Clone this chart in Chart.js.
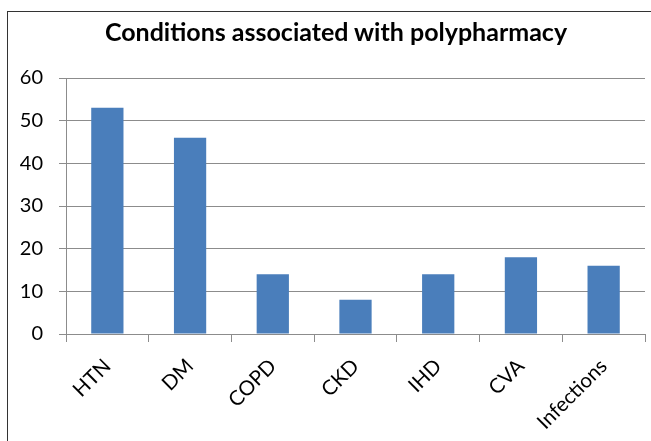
<!DOCTYPE html>
<html>
<head>
<meta charset="utf-8">
<script src="https://cdn.jsdelivr.net/npm/chart.js@4/dist/chart.umd.min.js"></script>
<style>
  html, body { margin: 0; padding: 0; background: #fff; overflow: hidden; }
  #wrap { position: relative; width: 651px; height: 441px; overflow: hidden; }
  #frame { position: absolute; left: 7px; top: 11px; width: 700px; height: 500px; border: 1px solid #333; box-sizing: border-box; }
  #title { position: absolute; left: 0; top: 16px; width: 672px; text-align: center; white-space: nowrap;
           font-family: Lato, 'Open Sans', sans-serif; font-weight: bold; font-size: 25px; line-height: 30px; color: #000; }
  canvas { position: absolute; left: 0; top: 0; }
</style>
</head>
<body>
<div id="wrap">
  <div id="frame"></div>
  <canvas id="c" width="651" height="441"></canvas>
  <div id="title"></div>
</div>
<script>
const categories = ["HTN", "DM", "COPD", "CKD", "IHD", "CVA", "Infections"];
const counts = [53, 46, 14, 8, 14, 18, 16];
const yTicks = [0, 10, 20, 30, 40, 50, 60];
const chartTitle = "Conditions associated with polypharmacy";

document.getElementById('title').textContent = chartTitle;

const FONT = "Lato, 'Open Sans', sans-serif";
const GRID = '#8c8c8c';

new Chart(document.getElementById('c'), {
  type: 'bar',
  data: {
    labels: categories,
    datasets: [{
      data: counts,
      backgroundColor: '#4a7ebb',
      borderWidth: 0,
      categoryPercentage: 0.39,
      barPercentage: 1.0
    }]
  },
  options: {
    responsive: false,
    animation: false,
    devicePixelRatio: 1,
    layout: { padding: { left: 0, right: 6, top: 78, bottom: 0 } },
    plugins: {
      legend: { display: false },
      tooltip: { enabled: false },
      title: { display: false }
    },
    scales: {
      x: {
        offset: true,
        grid: { display: true, drawOnChartArea: false, offset: true, color: GRID, tickLength: 8, lineWidth: 1 },
        border: { display: true, color: GRID, width: 1 },
        ticks: {
          color: '#000',
          font: { family: FONT, size: 20.5 },
          minRotation: 45, maxRotation: 45,
          padding: 12
        },
        afterFit: (s) => { s.height = 107; }
      },
      y: {
        min: 0, max: 60,
        afterBuildTicks: (s) => { s.ticks = yTicks.map(v => ({ value: v })); },
        grid: { color: GRID, tickLength: 7, lineWidth: 1 },
        border: { display: true, color: GRID, width: 1 },
        ticks: {
          color: '#000',
          font: { family: FONT, size: 20 },
          padding: 16
        },
        afterFit: (s) => { s.width = 66; }
      }
    }
  }
});
</script>
</body>
</html>
